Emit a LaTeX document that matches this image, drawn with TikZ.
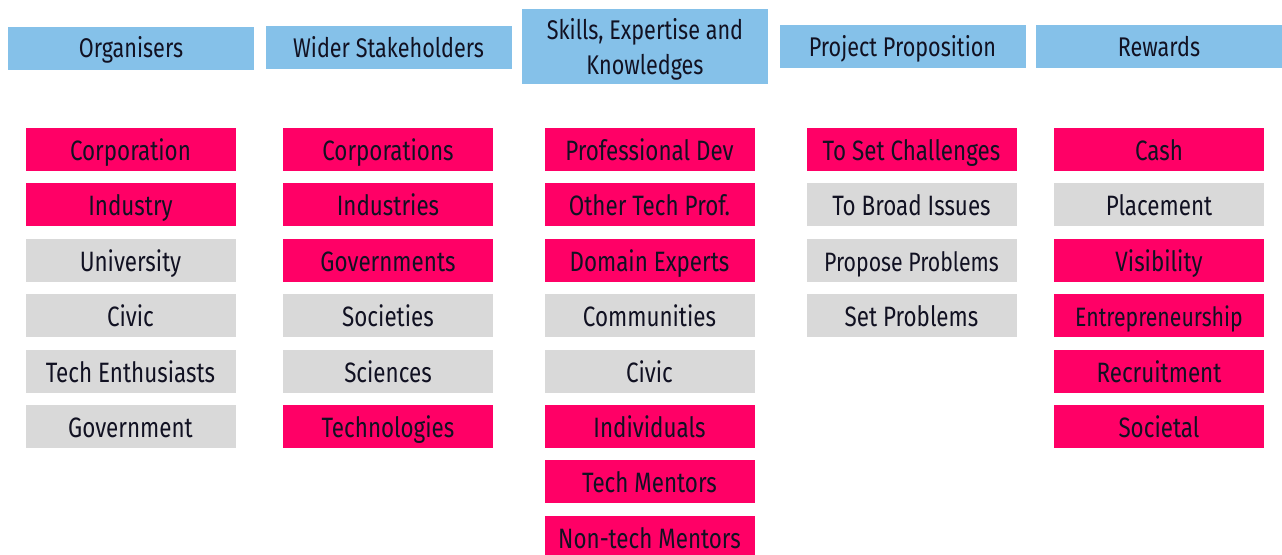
\documentclass[tikz,border=0pt]{standalone}
\usepackage{fontspec}
\setmainfont[FakeStretch=0.8]{Fira Sans}
\definecolor{headblue}{HTML}{85C1E9}
\definecolor{hotpink}{HTML}{FF0066}
\definecolor{softgrey}{HTML}{D9D9D9}
\definecolor{inkdark}{HTML}{111122}
\tikzset{
    head/.style={fill=headblue, text=inkdark, minimum width=123pt, minimum height=21.5pt,
        inner sep=1pt, align=center, font=\fontsize{13.5}{17.5}\selectfont},
    cell/.style={minimum width=105pt, minimum height=21.5pt, inner sep=1pt,
        text height=14pt, text depth=3pt, text=inkdark, font=\fontsize{14}{15}\selectfont}
}
\begin{document}
\begin{tikzpicture}[x=0.5pt,y=-0.5pt]
    \clip (0,0) rectangle (1282,555);
    % headers
    \node[head, text height=12.5pt, text depth=3pt] (org) at (131,48.5) {Organisers};
    \node[head, text height=12.5pt, text depth=3pt] (wider) at (388.5,48) {Wider Stakeholders};
    \node[head, minimum height=37.5pt] (skills) at (645,46.5) {};
    \node[font=\fontsize{13.5}{17.5}\selectfont, text=inkdark, align=center] (skillstxt)
        at (645,49) {Skills, Expertise and\\Knowledges};
    \node[head, text height=12.5pt, text depth=3pt] (prop) at (902.5,47) {Project Proposition};
    \node[head, text height=12.5pt, text depth=3pt] (rew) at (1159,47) {Rewards};

    % column 1: organisers
    \foreach \t/\c [count=\i] in {Corporation/hotpink, Industry/hotpink, University/softgrey,
        Civic/softgrey, Tech Enthusiasts/softgrey, Government/softgrey}
        \node[cell, fill=\c] (org\i) at (130.5,{149.5+55.4*(\i-1)}) {\t};
    % column 2: wider stakeholders
    \foreach \t/\c [count=\i] in {Corporations/hotpink, Industries/hotpink, Governments/hotpink,
        Societies/softgrey, Sciences/softgrey, Technologies/hotpink}
        \node[cell, fill=\c] (wider\i) at (388,{149.5+55.4*(\i-1)}) {\t};
    % column 3: skills
    \foreach \t/\c [count=\i] in {Professional Dev/hotpink, Other Tech Prof./hotpink,
        Domain Experts/hotpink, Communities/softgrey, Civic/softgrey, Individuals/hotpink,
        Tech Mentors/hotpink, Non-tech Mentors/hotpink}
        \node[cell, fill=\c] (skills\i) at (649.5,{149.5+55.4*(\i-1)}) {\t};
    % column 4: proposition
    \foreach \t/\c [count=\i] in {To Set Challenges/hotpink, To Broad Issues/softgrey,
        {\fontsize{13.3}{14}\selectfont Propose Problems}/softgrey, Set Problems/softgrey}
        \node[cell, fill=\c] (prop\i) at (911.5,{149.5+55.4*(\i-1)}) {\t};
    % column 5: rewards
    \foreach \t/\c [count=\i] in {Cash/hotpink, Placement/softgrey, Visibility/hotpink,
        {\fontsize{13.3}{14}\selectfont Entrepreneurship}/hotpink, Recruitment/hotpink, Societal/hotpink}
        \node[cell, fill=\c] (rew\i) at (1159,{149.5+55.4*(\i-1)}) {\t};
\end{tikzpicture}
\end{document}
